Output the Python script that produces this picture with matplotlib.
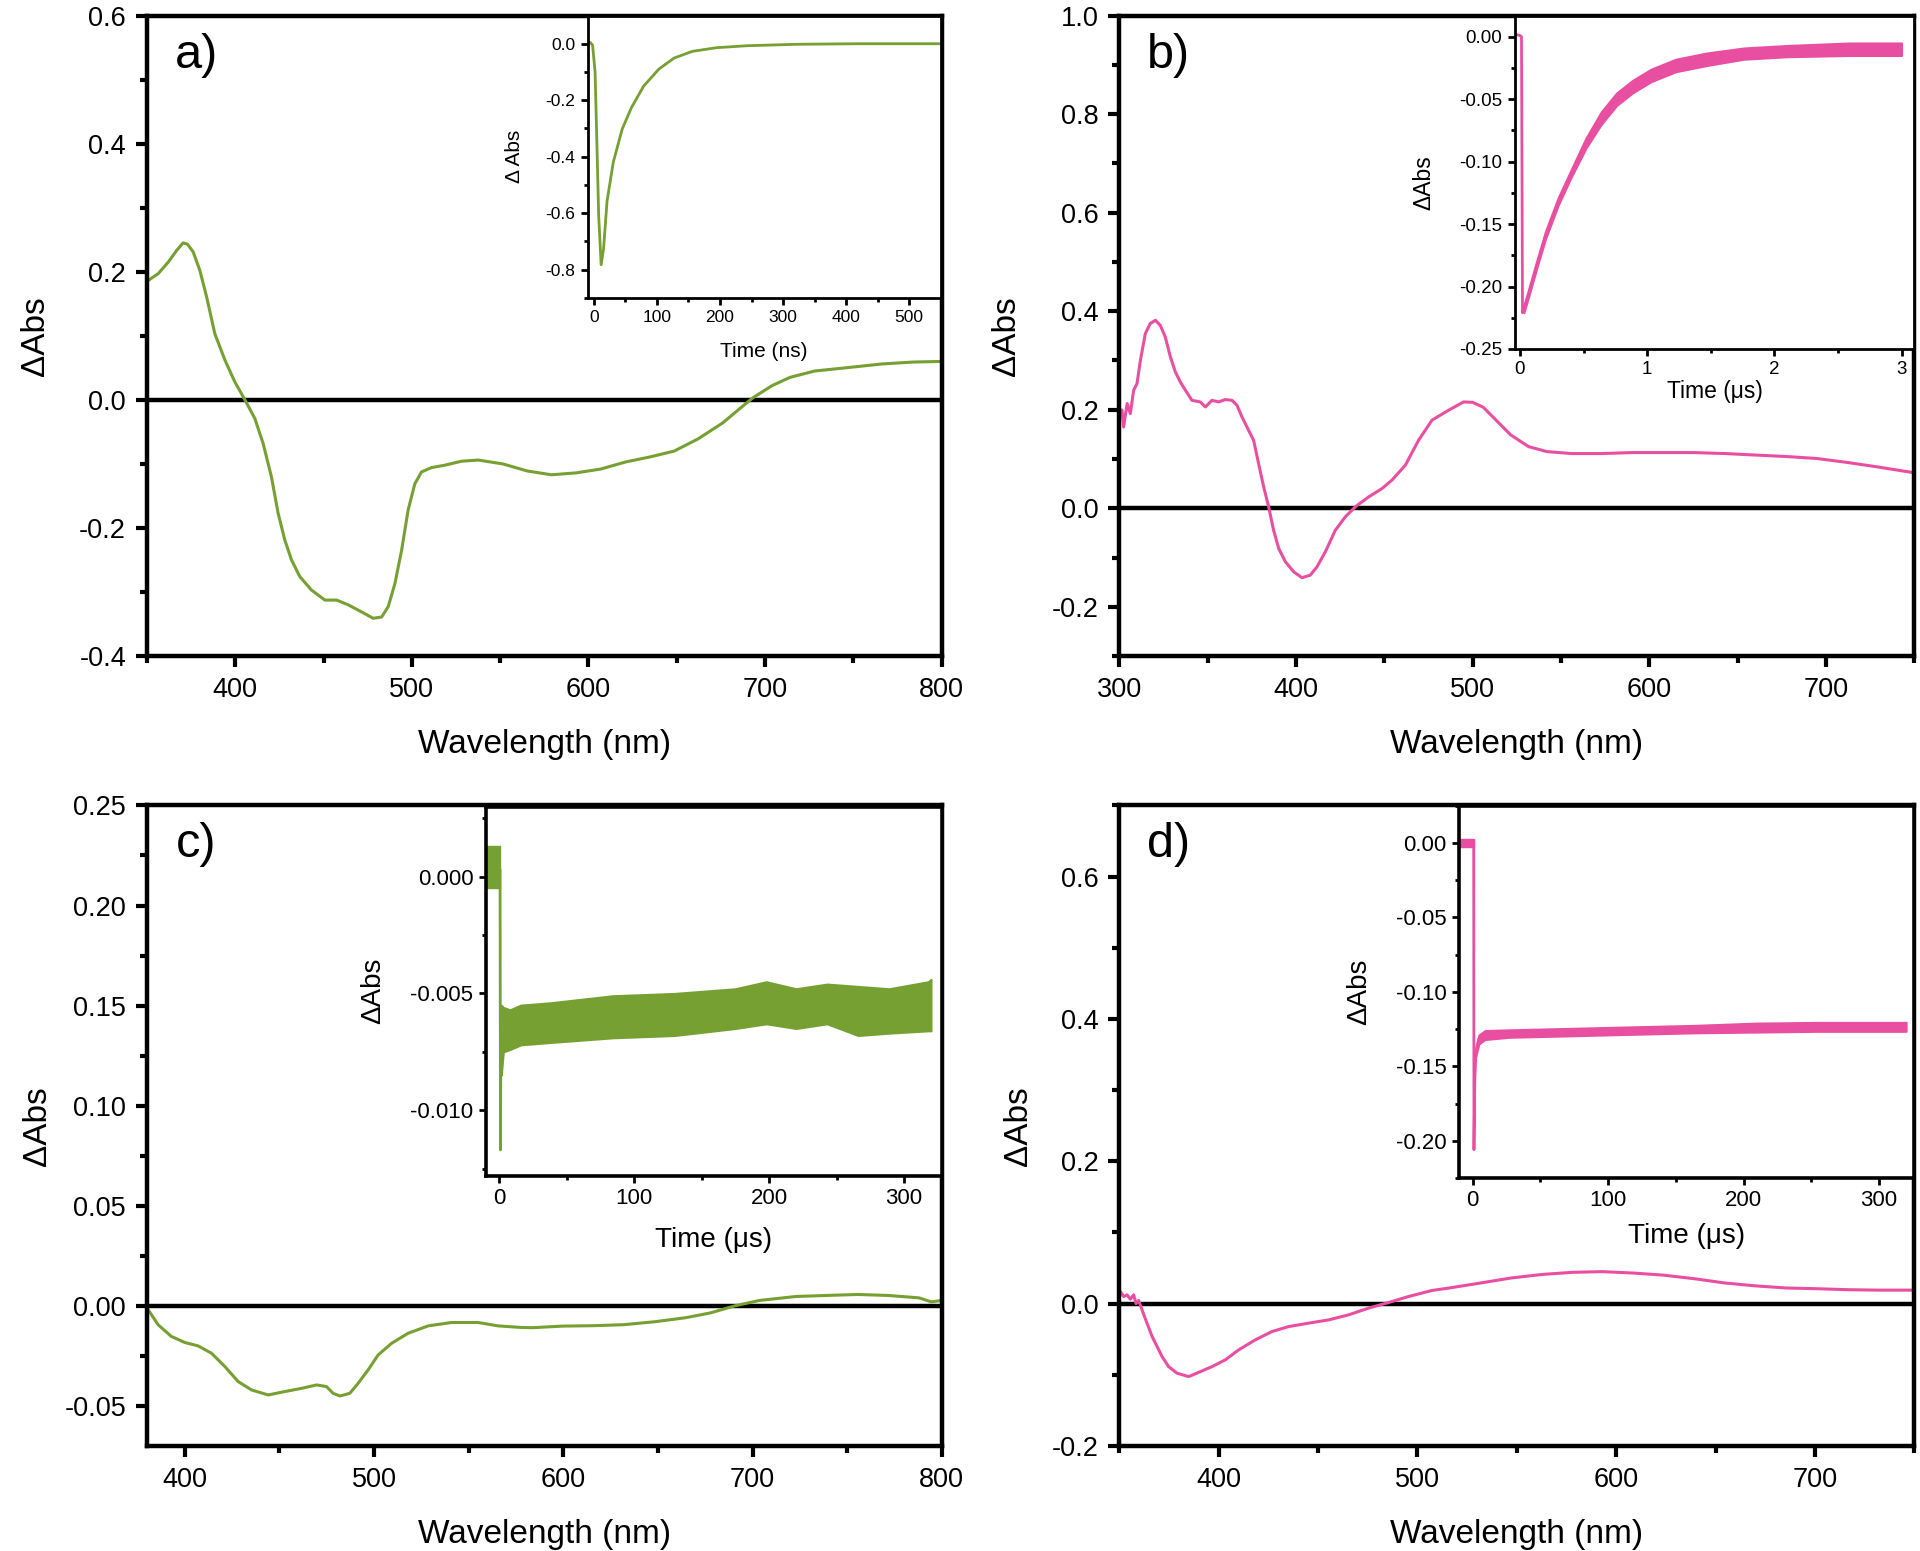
import matplotlib
matplotlib.use("Agg")
import matplotlib.pyplot as plt
from matplotlib.ticker import MultipleLocator, FormatStrFormatter

plt.rcParams['font.family'] = ['Liberation Sans', 'DejaVu Sans']
plt.rcParams['axes.unicode_minus'] = False

GREEN = '#76a032'
PINK = '#e94fa1'

# ---------------- data: panel a ----------------
a_wl = [350, 356.4, 362.1, 366.8, 370.5, 373, 376.2, 380, 383.8, 388.5, 394.2, 399.8, 405.5, 411.1, 415.8,
        420.5, 424.3, 428.1, 431.9, 436.6, 443.2, 450.8, 457.4, 464, 471.5, 478.1, 482.9, 486.6, 490.4,
        494.2, 497.9, 501.7, 505.5, 511.2, 518.7, 528.1, 537.6, 551.5, 565.3, 579, 593, 607, 621, 635,
        648.5, 662, 676, 686.8, 693, 703.8, 714, 728, 745.6, 766, 783.7, 800]
a_abs = [0.185, 0.197, 0.215, 0.233, 0.245, 0.243, 0.231, 0.202, 0.161, 0.103, 0.062, 0.028, 0.0, -0.029,
         -0.068, -0.120, -0.177, -0.219, -0.250, -0.276, -0.297, -0.3126, -0.3126, -0.320, -0.331, -0.341,
         -0.339, -0.323, -0.287, -0.235, -0.172, -0.131, -0.1125, -0.1057, -0.102, -0.0958, -0.094,
         -0.100, -0.111, -0.117, -0.114, -0.108, -0.097, -0.089, -0.080, -0.061, -0.036, -0.011, 0.003,
         0.022, 0.035, 0.045, 0.050, 0.056, 0.059, 0.060]
a_t = [-10, -6, -2, 2, 4.8, 7.7, 11.6, 15.4, 21, 30.8, 45, 59.7, 79, 103, 127, 156, 194.6, 243, 320, 416, 548]
a_kin = [0.0, 0.005, -0.005, -0.10, -0.35, -0.61, -0.783, -0.727, -0.557, -0.42, -0.302, -0.226, -0.15,
         -0.09, -0.051, -0.027, -0.014, -0.007, -0.002, 0.0, 0.0]

# ---------------- data: panel b ----------------
b_wl = [300.5, 301.5, 302.4, 304.4, 306.2, 308.1, 310, 311.9, 314.7, 317.5, 320.4, 323.2, 326, 328.9,
        331.7, 334.5, 337.4, 341.1, 345.8, 348.7, 352.4, 356.2, 360, 363.8, 366.6, 369.4, 373.2, 376,
        378.8, 381.7, 384.5, 387.3, 390.2, 394, 398.7, 403.4, 408.1, 411.9, 416.6, 422.3, 427.9, 433.6,
        441.1, 448.7, 454.3, 461.9, 469.4, 477, 486.4, 494.9, 500, 506, 511, 521.5, 531.7, 542, 556, 573,
        590.6, 608, 625, 643, 660, 677.5, 694.8, 712, 729, 750]
b_abs = [0.200, 0.199, 0.165, 0.2125, 0.192, 0.2395, 0.253, 0.300, 0.3545, 0.375, 0.3815, 0.371, 0.3476,
         0.307, 0.2766, 0.2563, 0.2395, 0.219, 0.2158, 0.2056, 0.219, 0.2158, 0.2206, 0.219, 0.209,
         0.1854, 0.158, 0.138, 0.091, 0.0434, 0.003, -0.0444, -0.0815, -0.1087, -0.129, -0.141, -0.1357,
         -0.1188, -0.0884, -0.0444, -0.0175, 0.003, 0.023, 0.040, 0.057, 0.0874, 0.138, 0.1788, 0.199,
         0.2158, 0.215, 0.205, 0.187, 0.149, 0.125, 0.115, 0.111, 0.111, 0.113, 0.113, 0.113, 0.111,
         0.108, 0.105, 0.101, 0.093, 0.084, 0.072]
b_t_line = [-0.04, 0.0, 0.012, 0.02, 0.03]
b_kin_line = [0.002, 0.001, 0.0, -0.221, -0.218]
b_t_band = [0.03, 0.06, 0.13, 0.2, 0.3, 0.4, 0.52, 0.64, 0.76, 0.885, 1.03, 1.225, 1.47, 1.76, 2.1, 2.59, 3.0]
b_kin_hi = [-0.215, -0.205, -0.180, -0.156, -0.129, -0.107, -0.081, -0.060, -0.045, -0.035, -0.026,
            -0.018, -0.013, -0.009, -0.007, -0.005, -0.005]
b_kin_lo = [-0.221, -0.211, -0.186, -0.162, -0.135, -0.113, -0.089, -0.070, -0.055, -0.045, -0.036,
            -0.028, -0.023, -0.018, -0.016, -0.015, -0.015]

# ---------------- data: panel c ----------------
c_wl = [380, 386, 393, 400.1, 407.1, 414.2, 421.2, 428.2, 435.3, 444.1, 452.9, 461.7, 469.7, 474.9, 478.4,
        482, 487.2, 491.6, 496.9, 502.2, 509.3, 518, 528.6, 541, 555, 565.6, 578, 583.6, 599.8, 616, 632,
        648.6, 664.8, 677.8, 690.6, 703.6, 723, 739, 755.6, 771.8, 788, 794.5, 800]
c_abs = [-0.001, -0.0095, -0.0153, -0.0183, -0.020, -0.0237, -0.0303, -0.0378, -0.042, -0.0445, -0.0428,
         -0.0412, -0.0395, -0.0403, -0.0437, -0.045, -0.0437, -0.0387, -0.032, -0.0245, -0.0187, -0.0137,
         -0.010, -0.0083, -0.0083, -0.010, -0.0108, -0.0109, -0.0101, -0.0099, -0.0094, -0.0079, -0.0059,
         -0.0035, 0.0, 0.0027, 0.0047, 0.0052, 0.0057, 0.0052, 0.0040, 0.0020, 0.0027]
c_t_pre = [-10, 0.8]
c_kin_pre_hi = [0.0013, 0.0013]
c_kin_pre_lo = [-0.0005, -0.0005]
c_t_line = [-10, 0.6, 0.9, 1.3, 2.0]
c_kin_line = [0.0003, 0.0003, -0.0117, -0.0060, -0.0065]
c_t_band = [1.5, 3, 8, 16, 38, 84, 130, 175, 198, 220, 243, 266, 289, 318, 320]
c_kin_hi = [-0.0055, -0.0056, -0.0057, -0.0055, -0.0054, -0.0051, -0.0050, -0.0048, -0.0045, -0.0048,
            -0.0046, -0.0047, -0.0048, -0.0045, -0.0044]
c_kin_lo = [-0.0085, -0.0075, -0.0074, -0.0072, -0.0071, -0.0069, -0.0068, -0.0065, -0.0063, -0.0065,
            -0.0063, -0.0068, -0.0067, -0.0066, -0.0066]

# ---------------- data: panel d ----------------
d_wl = [350.5, 352.2, 353.9, 355.5, 357.2, 358.4, 359.7, 361.4, 363.9, 366.5, 369, 371.5, 374.8, 379,
        384.9, 390.8, 396.6, 403.3, 410, 418.4, 426.8, 435.2, 445.2, 455.3, 465.4, 475.4, 485.5, 495.5,
        507.3, 516, 531.7, 547, 562.5, 578, 593, 608.6, 624, 639.4, 654.8, 670, 685.5, 701, 716.6, 732, 750]
d_abs = [0.017, 0.010, 0.0124, 0.0063, 0.0124, 0.0, 0.0045, -0.0087, -0.0274, -0.0463, -0.0603, -0.0744,
         -0.0885, -0.0977, -0.1025, -0.0955, -0.0885, -0.079, -0.065, -0.0509, -0.0392, -0.0322, -0.0274,
         -0.0228, -0.0157, -0.0063, 0.0016, 0.010, 0.0185, 0.022, 0.029, 0.036, 0.041, 0.044, 0.045, 0.043,
         0.040, 0.035, 0.029, 0.025, 0.022, 0.021, 0.0196, 0.019, 0.019]
d_t_pre = [-10, 1.0]
d_kin_pre_hi = [0.003, 0.003]
d_kin_pre_lo = [-0.003, -0.003]
d_t_line = [-10, 0.7, 0.9, 1.5, 2.3, 4.5]
d_kin_line = [0.0, 0.0, -0.206, -0.160, -0.142, -0.132]
d_t_band = [2.3, 4.5, 9, 27, 73, 118, 164, 209, 254.5, 300, 320]
d_kin_hi = [-0.137, -0.129, -0.126, -0.1255, -0.1245, -0.1235, -0.1225, -0.121, -0.1205, -0.1205, -0.1205]
d_kin_lo = [-0.143, -0.135, -0.132, -0.1305, -0.1295, -0.1285, -0.1275, -0.127, -0.1265, -0.1265, -0.1265]

# ---------------- figure ----------------
fig = plt.figure(figsize=(19.2, 15.51), dpi=100)


def style_main(ax, xlim, ylim, xmaj, xmin, ymaj, ymin, yfmt, ypad):
    ax.set_xlim(*xlim)
    ax.set_ylim(*ylim)
    ax.xaxis.set_major_locator(MultipleLocator(xmaj))
    ax.xaxis.set_minor_locator(MultipleLocator(xmin))
    ax.yaxis.set_major_locator(MultipleLocator(ymaj))
    ax.yaxis.set_minor_locator(MultipleLocator(ymin))
    ax.yaxis.set_major_formatter(FormatStrFormatter(yfmt))
    for s in ax.spines.values():
        s.set_linewidth(3.2)
    ax.tick_params(which='major', direction='out', length=8, width=3, labelsize=19.5, pad=7,
                   top=False, right=False)
    ax.tick_params(which='minor', direction='out', length=5, width=3, top=False, right=False)
    ax.axhline(0, color='black', lw=3.2, zorder=1)
    ax.set_xlabel('Wavelength (nm)', fontsize=24, labelpad=19)
    ax.set_ylabel('ΔAbs', fontsize=24, labelpad=ypad)


def style_inset(ax, xlim, ylim, xmaj, xmin, ymaj, ymin, yfmt, lsize, tsize, xlabel, ylabel,
                xpad, ypad, lw=2.0):
    ax.set_xlim(*xlim)
    ax.set_ylim(*ylim)
    ax.xaxis.set_major_locator(MultipleLocator(xmaj))
    ax.xaxis.set_minor_locator(MultipleLocator(xmin))
    ax.yaxis.set_major_locator(MultipleLocator(ymaj))
    ax.yaxis.set_minor_locator(MultipleLocator(ymin))
    ax.yaxis.set_major_formatter(FormatStrFormatter(yfmt))
    for s in ax.spines.values():
        s.set_linewidth(lw)
    ax.tick_params(which='major', direction='out', length=5, width=2, labelsize=tsize, pad=4,
                   top=False, right=False)
    ax.tick_params(which='minor', direction='out', length=3, width=2, top=False, right=False)
    ax.set_xlabel(xlabel, fontsize=lsize, labelpad=xpad)
    ax.set_ylabel(ylabel, fontsize=lsize, labelpad=ypad)


# panel a
axa = fig.add_axes([0.0765, 0.577, 0.414, 0.413])
axa.plot(a_wl, a_abs, color=GREEN, lw=2.2, zorder=2)
style_main(axa, (350, 800), (-0.4, 0.6), 100, 50, 0.2, 0.1, '%.1f', 20)
axa.text(0.062, 0.937, 'a)', transform=axa.transAxes, fontsize=35, ha='center', va='center')

ia = fig.add_axes([0.306, 0.808, 0.184, 0.182])
ia.plot(a_t, a_kin, color=GREEN, lw=2.0)
style_inset(ia, (-10, 550), (-0.9, 0.1), 100, 50, 0.2, 0.1, '%.1f', 15, 12.5, 'Time (ns)', 'Δ Abs',
            12, 15)

# panel b
axb = fig.add_axes([0.583, 0.577, 0.414, 0.413])
axb.plot(b_wl, b_abs, color=PINK, lw=2.2, zorder=2)
style_main(axb, (300, 750), (-0.3, 1.0), 100, 50, 0.2, 0.1, '%.1f', 21)
axb.text(0.062, 0.937, 'b)', transform=axb.transAxes, fontsize=35, ha='center', va='center')

ib = fig.add_axes([0.789, 0.775, 0.208, 0.215])
ib.plot(b_t_line, b_kin_line, color=PINK, lw=2.0)
ib.fill_between(b_t_band, b_kin_lo, b_kin_hi, color=PINK, lw=1.5, edgecolor=PINK)
style_inset(ib, (-0.04, 3.1), (-0.25, 0.017), 1, 0.5, 0.05, 0.025, '%.2f', 16.5, 13.5, 'Time (μs)', 'ΔAbs',
            1, 17)

# panel c
axc = fig.add_axes([0.0765, 0.0677, 0.414, 0.413])
axc.plot(c_wl, c_abs, color=GREEN, lw=2.2, zorder=2)
style_main(axc, (380, 800), (-0.07, 0.25), 100, 50, 0.05, 0.025, '%.2f', 8)
axc.text(0.062, 0.939, 'c)', transform=axc.transAxes, fontsize=35, ha='center', va='center')

ic = fig.add_axes([0.253, 0.242, 0.2375, 0.238])
ic.fill_between(c_t_pre, c_kin_pre_lo, c_kin_pre_hi, color=GREEN, lw=1.0)
ic.plot(c_t_line, c_kin_line, color=GREEN, lw=2.0)
ic.fill_between(c_t_band, c_kin_lo, c_kin_hi, color=GREEN, lw=1.5, edgecolor=GREEN)
style_inset(ic, (-10, 328), (-0.0128, 0.003), 100, 50, 0.005, 0.0025, '%.3f', 20, 16, 'Time (μs)', 'ΔAbs',
            13, 17, lw=2.6)

# panel d
axd = fig.add_axes([0.583, 0.0677, 0.414, 0.413])
axd.plot(d_wl, d_abs, color=PINK, lw=2.2, zorder=2)
style_main(axd, (350, 750), (-0.2, 0.7), 100, 50, 0.2, 0.1, '%.1f', 13)
axd.text(0.062, 0.939, 'd)', transform=axd.transAxes, fontsize=35, ha='center', va='center')

idd = fig.add_axes([0.760, 0.2405, 0.237, 0.24])
idd.fill_between(d_t_pre, d_kin_pre_lo, d_kin_pre_hi, color=PINK, lw=1.0)
idd.plot(d_t_line, d_kin_line, color=PINK, lw=2.0)
idd.fill_between(d_t_band, d_kin_lo, d_kin_hi, color=PINK, lw=1.5, edgecolor=PINK)
style_inset(idd, (-10, 326), (-0.225, 0.025), 100, 50, 0.05, 0.025, '%.2f', 20, 16, 'Time (μs)', 'ΔAbs',
            8, 17, lw=2.6)

fig.savefig('out.png', dpi=100, facecolor='white')
